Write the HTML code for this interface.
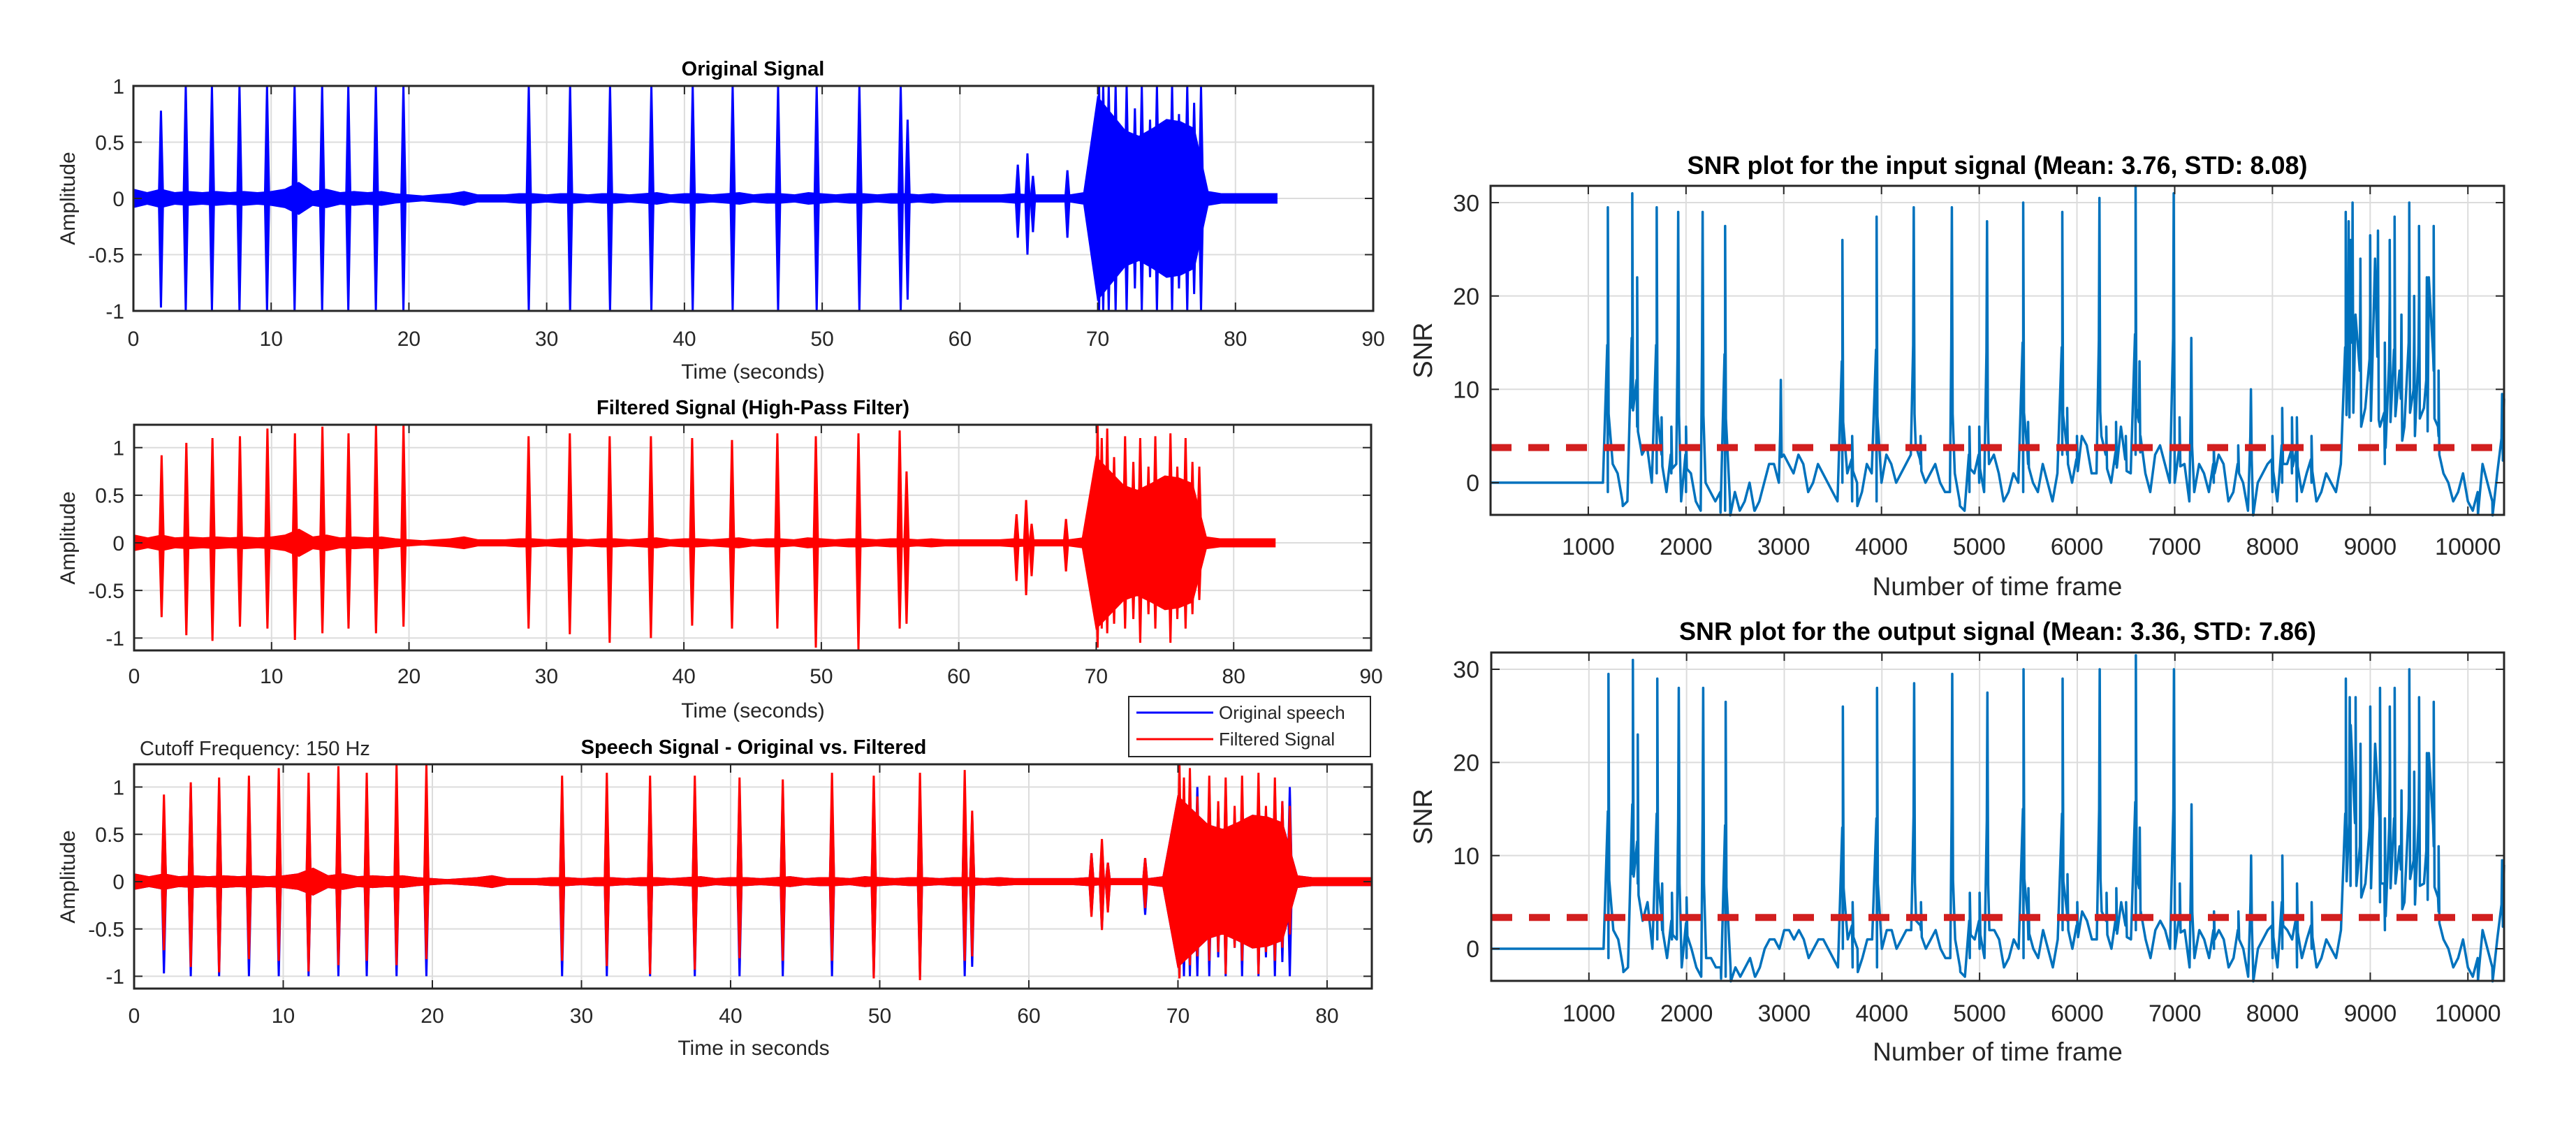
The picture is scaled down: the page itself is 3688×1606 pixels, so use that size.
<!DOCTYPE html>
<html><head><meta charset="utf-8"><style>
html,body{margin:0;padding:0;background:#fff;}
svg{display:block;font-family:"Liberation Sans",Arial,sans-serif;}
</style></head><body>
<svg id="fig" width="3688" height="1606" viewBox="0 0 3688 1606" xmlns="http://www.w3.org/2000/svg">
<rect width="3688" height="1606" fill="#fff"/>
</svg>
<script>
// ---------- data: speech waveforms ----------
const burstTimes = [2.0,3.8,5.7,7.7,9.7,11.7,13.7,15.6,17.6,19.6,28.7,31.7,34.6,37.6,40.6,43.5,46.8,49.6,52.7,55.7,56.2,64.2,64.9,65.3,67.8,70.1,70.4,70.8,71.3,72.1,72.7,73.2,73.8,74.3,75.4,75.9,76.5,77.0,77.5];
const origPos = [0.78,1,1,1,1,1,1,1,1,1,1,1,1,1,1,1,1,1,1,1,0.7,0.3,0.4,0.2,0.25,1,1,1,1,1,0.8,1,0.7,1,1,0.75,1,0.85,1];
const origNeg = [-0.97,-1,-1,-1,-1,-1,-1,-1,-1,-1,-1,-1,-1,-1,-1,-1,-1,-1,-1,-1,-0.9,-0.35,-0.5,-0.3,-0.35,-1,-1,-1,-1,-1,-0.8,-1,-0.7,-1,-1,-0.8,-1,-0.85,-1];
const filtPos = [0.92,1.05,1.1,1.12,1.2,1.15,1.22,1.15,1.24,1.24,1.12,1.15,1.12,1.12,1.1,1.08,1.15,1.12,1.15,1.18,0.75,0.3,0.45,0.2,0.25,1.24,1.1,1.2,0.9,1.12,0.85,1.1,0.8,1.12,1.15,0.8,1.1,0.85,0.8];
const filtNeg = [-0.78,-0.97,-1.03,-0.88,-0.9,-1.02,-0.95,-0.9,-0.95,-0.88,-0.9,-0.96,-1.05,-1.0,-0.87,-0.9,-0.9,-1.1,-1.12,-0.9,-0.85,-0.4,-0.55,-0.35,-0.3,-1.1,-0.9,-0.95,-0.85,-0.9,-0.8,-1.05,-0.75,-0.9,-1.05,-0.8,-0.9,-0.75,-0.6];
// noise envelope, one value per second 0..83
const noiseEnv = [0.08,0.05,0.08,0.05,0.06,0.05,0.06,0.05,0.06,0.05,0.06,0.08,0.14,0.06,0.08,0.05,0.06,0.05,0.06,0.04,0.03,0.02,0.03,0.04,0.06,0.03,0.03,0.03,0.04,0.04,0.03,0.04,0.04,0.03,0.04,0.04,0.03,0.04,0.05,0.03,0.04,0.04,0.03,0.04,0.05,0.03,0.04,0.04,0.03,0.05,0.04,0.03,0.04,0.04,0.03,0.04,0.04,0.03,0.04,0.03,0.03,0.03,0.03,0.03,0.04,0.03,0.03,0.03,0.03,0.05,0.9,0.75,0.6,0.55,0.62,0.7,0.68,0.62,0.06,0.04,0.04,0.04,0.04,0.04];
const xTicks90 = [0,10,20,30,40,50,60,70,80,90];
const xTicks83 = [0,10,20,30,40,50,60,70,80];
const ampTicks = [-1,-0.5,0,0.5,1];
const ampTickLabels = ["-1","-0.5","0","0.5","1"];

// ---------- data: SNR ----------
const snrFrames = [0,100,200,300,400,500,600,700,800,900,1000,1100,1200,1300,1400,1500,1600,1700,1800,1900,2000,2100,2200,2300,2400,2500,2600,2700,2800,2900,3000,3100,3200,3300,3400,3500,3600,3700,3800,3900,4000,4100,4200,4300,4400,4500,4600,4700,4800,4900,5000,5100,5200,5300,5400,5500,5600,5700,5800,5900,6000,6100,6200,6300,6400,6500,6600,6700,6800,6900,7000,7100,7200,7300,7400,7500,7600,7700,7800,7900,8000,8100,8200,8300,8400,8500,8600,8700,8800,8900,9000,9100,9200,9300,9400,9500,9600,9700,9800,9900,10000,10100,10200,10300,10370];
const snrInBase = [0,0,0,0,0,0,0,0,0,0,0,0,-1,1,-2,6,4,1,-1,2,-1,-2,0,-2,-3,-1,-2,-3,0,2,3,1,2,0,1,-1,0,-2,-1,1,0,2,1,3,2,1,0,-1,-2,-1,0,2,1,-1,0,2,-1,0,1,3,2,4,1,3,2,4,3,1,3,2,0,2,-1,1,0,2,-1,0,-2,1,-1,0,1,-1,0,-1,0,2,26,22,18,6,20,12,24,20,22,5,0,-1,-2,-1,0,1,9];
const snrOutBase = [0,0,0,0,0,0,0,0,0,0,0,0,-1,1,-2,7,5,1,-1,1,-1,-2,-1,-2,-3,-2,-2,-3,0,1,2,1,1,0,1,-1,0,-2,-1,1,0,2,1,2,2,1,0,-1,-2,-1,0,2,1,-1,0,1,-1,0,1,3,2,3,1,3,2,3,2,1,2,2,0,2,-1,1,0,1,-1,0,-2,1,-1,0,1,-1,0,-1,0,2,24,21,17,5,19,11,22,19,21,4,0,-1,-2,-1,0,1,9];
const snrMidFrames = [50,150,250,350,450,550,650,750,850,950,1050,1150,1250,1350,1450,1550,1650,1750,1850,1950,2050,2150,2250,2350,2450,2550,2650,2750,2850,2950,3050,3150,3250,3350,3450,3550,3650,3750,3850,3950,4050,4150,4250,4350,4450,4550,4650,4750,4850,4950,5050,5150,5250,5350,5450,5550,5650,5750,5850,5950,6050,6150,6250,6350,6450,6550,6650,6750,6850,6950,7050,7150,7250,7350,7450,7550,7650,7750,7850,7950,8050,8150,8250,8350,8450,8550,8650,8750,8850,8950,9050,9150,9250,9350,9450,9550,9650,9750,9850,9950,10050,10150,10250];
const snrInMid = [0,0,0,0,0,0,0,0,0,0,0,0,2,-2,8,3,0,3,1,-2,1,-3,-1,-1,-2,-3,0,-2,2,0,2,3,-1,2,0,-2,1,0,2,-2,3,0,2,4,0,2,-1,1,-3,1,-1,3,-2,1,-1,0,2,-2,3,0,5,1,5,0,6,1,5,-1,4,0,3,-2,2,-1,3,-2,2,-3,0,2,-2,2,-2,1,-2,1,-1,12,18,8,24,2,14,6,16,8,12,1,-2,1,-3,2,-2];
const snrOutMid = [0,0,0,0,0,0,0,0,0,0,0,0,2,-2,8,3,0,2,1,-2,0,-3,-1,-2,-2,-3,-1,-2,1,0,2,2,-1,1,0,-2,1,0,1,-2,2,0,2,3,0,2,-1,1,-3,1,-1,2,-2,1,-1,0,2,-2,2,0,4,1,4,0,5,1,4,-1,3,0,3,-2,2,-1,2,-2,2,-3,0,2,-2,2,-2,1,-2,1,-1,11,17,7,22,2,13,5,15,7,11,1,-2,1,-3,2,-2];
const snrInSpikeFrames = [1200,1450,1500,1700,1750,1850,1920,2000,2170,2400,2970,3600,3700,3950,4330,4400,4720,4900,5000,5080,5450,5500,5850,5900,6000,6230,6300,6400,6500,6600,6640,6990,7050,7170,7400,7650,7780,8000,8100,8200,8250,8400,8750,8780,8820,8900,9000,9080,9150,9200,9250,9320,9400,9450,9500,9580,9650,9700,10350];
const snrInSpikeVals  = [29.5,31,22,29.5,7,6,29,6,29,27.5,11,26,5,28.5,29.5,5,29.5,6,6,28,30,6.5,29,8,5,30.5,6,6.5,5,31.8,13,31,7,15.5,4,4,10,5,8,7,7,5,29,28,30,24,26.5,27,15,26,28.5,18,30,20,27.5,22,27.5,12,9.5];
const snrOutSpikeFrames = [1200,1450,1500,1700,1750,1850,1920,2000,2170,2400,3600,3700,3950,4330,4400,4720,4900,5000,5080,5450,5500,5850,5900,6000,6230,6300,6400,6500,6600,6640,6990,7050,7170,7400,7650,7780,8000,8100,8250,8400,8750,8790,8850,8900,9000,9100,9150,9200,9250,9320,9400,9450,9500,9580,9650,9700,10350];
const snrOutSpikeVals  = [29.5,31,23,29,7,6,28,5.5,28,26.5,26,5,28,28.5,5,29.5,6,6,27.5,30,6.5,29,8,5,30,6,6.5,5,31.5,13,30,7,15.5,4,4,10,5,10,7,5,29,27,27,22,26,28,14,26,28,17,30,19,27,21,26.5,11,9.5];
const snrDipFrames = [1350,2350,2450,2700,3750,4800,7800,8450,10100,10250];
const snrDipVals = [-2.5,-3.2,-3.5,-3,-2.5,-2.5,-3.5,-2,-3.4,-3.5];
const snrInMean = [3.76];
const snrOutMean = [3.36];
const snrXTicks = [1000,2000,3000,4000,5000,6000,7000,8000,9000,10000];
const snrYTicks = [0,10,20,30];

// ---------- helpers ----------
const NS = "http://www.w3.org/2000/svg";
const fig = document.getElementById('fig');
function mk(tag, attrs, parent){
  const e = document.createElementNS(NS, tag);
  for (const k in attrs) e.setAttribute(k, attrs[k]);
  (parent || fig).appendChild(e);
  return e;
}
function txt(s, x, y, size, opts, parent){
  const t = mk('text', Object.assign({x:x, y:y, 'font-size':size, fill:'#262626'}, opts||{}), parent);
  t.textContent = s;
  return t;
}
function scale(d0,d1,r0,r1){ return v => r0 + (v-d0)*(r1-r0)/(d1-d0); }

function axesFrame(g, box, xs, ys, xt, yt){
  xt.forEach(v=>{ const l = mk('line',{x1:xs(v),x2:xs(v),y1:box.y0,y2:box.y1,stroke:'#dcdcdc','stroke-width':2},g);
      });
  yt.forEach(v=>{ const l = mk('line',{x1:box.x0,x2:box.x1,y1:ys(v),y2:ys(v),stroke:'#dcdcdc','stroke-width':2},g);
      });
}
function axesBorder(g, box, xs, ys, xt, yt, xtl, ytl, fs, tickY, ylabX){
  const r = mk('rect',{x:box.x0,y:box.y0,width:box.x1-box.x0,height:box.y1-box.y0,fill:'none',stroke:'#262626','stroke-width':3},g);
   
  xt.forEach((v,i)=>{
    mk('line',{x1:xs(v),x2:xs(v),y1:box.y1,y2:box.y1-12,stroke:'#262626','stroke-width':2},g);
    mk('line',{x1:xs(v),x2:xs(v),y1:box.y0,y2:box.y0+12,stroke:'#262626','stroke-width':2},g);
    const t = txt(xtl[i], xs(v), tickY, fs, {'text-anchor':'middle'}, g);
     
  });
  yt.forEach((v,i)=>{
    mk('line',{x1:box.x0,x2:box.x0+12,y1:ys(v),y2:ys(v),stroke:'#262626','stroke-width':2},g);
    mk('line',{x1:box.x1,x2:box.x1-12,y1:ys(v),y2:ys(v),stroke:'#262626','stroke-width':2},g);
    const t = txt(ytl[i], ylabX, ys(v)+fs*0.36, fs, {'text-anchor':'end'}, g);
     
  });
}

function drawWave(g, xs, ys, times, pos, neg, env, color, clip){
  const c = v => clip ? Math.max(-1, Math.min(1, v)) : v;
  let up = [], dn = [];
  env.forEach((a,i)=>{ up.push(xs(i)+','+ys(c(a))); dn.unshift(xs(i)+','+ys(c(-a))); });
  const p = mk('polygon',{points:up.concat(dn).join(' '),fill:color,stroke:color,'stroke-width':2},g);
   
  times.forEach((t,i)=>{
    const x = xs(t);
    const w = mk('polygon',{points:[(x-3)+','+ys(0),x+','+ys(c(pos[i])),(x+3)+','+ys(0),x+','+ys(c(neg[i]))].join(' '),fill:color,stroke:color,'stroke-width':3},g);
     
  });
}

// ---------- Plot 1 ----------
(function(){
  const g = mk('g',{});  
  const box = {x0:191,x1:1966,y0:123,y1:445};
  const xs = scale(0,90,box.x0,box.x1), ys = scale(-1,1,box.y1,box.y0);
  axesFrame(g, box, xs, ys, xTicks90, ampTicks);
  drawWave(g, xs, ys, burstTimes, origPos, origNeg, noiseEnv, '#0000ff', true);
  axesBorder(g, box, xs, ys, xTicks90, ampTicks, xTicks90.map(String), ampTickLabels, 30, 495, 178);
  const t = txt('Original Signal', 1078, 108, 29, {'text-anchor':'middle','font-weight':'bold','fill':'#000'}, g);
   
  const xl = txt('Time (seconds)', 1078, 542, 30, {'text-anchor':'middle'}, g);
   
  const yl = txt('Amplitude', 0, 0, 30, {'text-anchor':'middle','transform':'translate(107,284) rotate(-90)'}, g);
   
})();

// ---------- Plot 2 ----------
(function(){
  const g = mk('g',{});  
  const box = {x0:192,x1:1963,y0:608,y1:931};
  const xs = scale(0,90,box.x0,box.x1), ys = scale(-1.13,1.24,box.y1,box.y0);
  axesFrame(g, box, xs, ys, xTicks90, ampTicks);
  drawWave(g, xs, ys, burstTimes, filtPos, filtNeg, noiseEnv, '#ff0000', false);
  axesBorder(g, box, xs, ys, xTicks90, ampTicks, xTicks90.map(String), ampTickLabels, 30, 978, 178);
  const t = txt('Filtered Signal (High-Pass Filter)', 1078, 593, 29, {'text-anchor':'middle','font-weight':'bold','fill':'#000'}, g);
   
  const xl = txt('Time (seconds)', 1078, 1027, 30, {'text-anchor':'middle'}, g);
   
  const yl = txt('Amplitude', 0, 0, 30, {'text-anchor':'middle','transform':'translate(107,770) rotate(-90)'}, g);
   
})();

// ---------- Plot 3 ----------
(function(){
  const g = mk('g',{});  
  const box = {x0:192,x1:1964,y0:1094,y1:1415};
  const xs = scale(0,83,box.x0,box.x1), ys = scale(-1.13,1.24,box.y1,box.y0);
  axesFrame(g, box, xs, ys, xTicks83, ampTicks);
  drawWave(g, xs, ys, burstTimes, origPos, origNeg, noiseEnv, '#0000ff', true);
  drawWave(g, xs, ys, burstTimes, filtPos, filtNeg.map(v=>v*0.93), noiseEnv, '#ff0000', false);
  axesBorder(g, box, xs, ys, xTicks83, ampTicks, xTicks83.map(String), ampTickLabels, 30, 1464, 178);
  const t = txt('Speech Signal - Original vs. Filtered', 1079, 1079, 29, {'text-anchor':'middle','font-weight':'bold','fill':'#000'}, g);
   
  const ct = txt('Cutoff Frequency: 150 Hz', 200, 1081, 29, {}, g);
   
  const xl = txt('Time in seconds', 1079, 1510, 30, {'text-anchor':'middle'}, g);
   
  const yl = txt('Amplitude', 0, 0, 30, {'text-anchor':'middle','transform':'translate(107,1255) rotate(-90)'}, g);
   
  const lg = mk('g',{}, g);  
  mk('rect',{x:1616,y:997,width:346,height:86,fill:'#fff',stroke:'#262626','stroke-width':2},lg);
  const e1 = mk('g',{},lg);  
  mk('line',{x1:1627,x2:1737,y1:1020,y2:1020,stroke:'#0000ff','stroke-width':3},e1);
  txt('Original speech', 1745, 1029, 26, {}, e1);
  const e2 = mk('g',{},lg);  
  mk('line',{x1:1627,x2:1737,y1:1058,y2:1058,stroke:'#ff0000','stroke-width':3},e2);
  txt('Filtered Signal', 1745, 1067, 26, {}, e2);
})();

// ---------- SNR plots ----------
function snrPlot(name, box, base, mid, spF, spV, mean, title, titleY, tickY, xlabY){
  const g = mk('g',{});  
  const xs = scale(0,10370,box.x0,box.x1), ys = scale(-3.45,31.8,box.y1,box.y0);
  axesFrame(g, box, xs, ys, snrXTicks, snrYTicks);
  let pts = [];
  snrFrames.forEach((f,i)=>pts.push([f, base[i]]));
  snrMidFrames.forEach((f,i)=>pts.push([f, mid[i]]));
  spF.forEach((f,i)=>{ pts.push([f-6, spV[i]*0.5]); pts.push([f, spV[i]]); pts.push([f+8, spV[i]*0.25]); });
  snrDipFrames.forEach((f,i)=>pts.push([f+3, snrDipVals[i]]));
  pts.sort((a,b)=>a[0]-b[0]);
  const pl = mk('polyline',{points:pts.map(p=>xs(Math.min(p[0],10370))+','+ys(p[1])).join(' '),fill:'none',stroke:'#0072bd','stroke-width':3.5,'stroke-linejoin':'round'},g);
   
  const ml = mk('line',{x1:box.x0,x2:box.x1,y1:ys(mean[0]),y2:ys(mean[0]),stroke:'#d21f1f','stroke-width':10,'stroke-dasharray':'30 24'},g);
   
  axesBorder(g, box, xs, ys, snrXTicks, snrYTicks, snrXTicks.map(String), snrYTicks.map(String), 34, tickY, 2118);
  const t = txt(title, (box.x0+box.x1)/2, titleY, 36, {'text-anchor':'middle','font-weight':'bold','fill':'#000'}, g);
   
  const xl = txt('Number of time frame', (box.x0+box.x1)/2, xlabY, 37, {'text-anchor':'middle'}, g);
   
  const yl = txt('SNR', 0, 0, 38, {'text-anchor':'middle','transform':'translate(2050,'+((box.y0+box.y1)/2)+') rotate(-90)'}, g);
   
}
snrPlot('snr-input-axes', {x0:2134,x1:3585,y0:266,y1:737}, snrInBase, snrInMid, snrInSpikeFrames, snrInSpikeVals, snrInMean,
  'SNR plot for the input signal (Mean: 3.76, STD: 8.08)', 249, 794, 852);
snrPlot('snr-output-axes', {x0:2135,x1:3585,y0:934,y1:1404}, snrOutBase, snrOutMid, snrOutSpikeFrames, snrOutSpikeVals, snrOutMean,
  'SNR plot for the output signal (Mean: 3.36, STD: 7.86)', 916, 1462, 1518);
</script>
</body></html>
